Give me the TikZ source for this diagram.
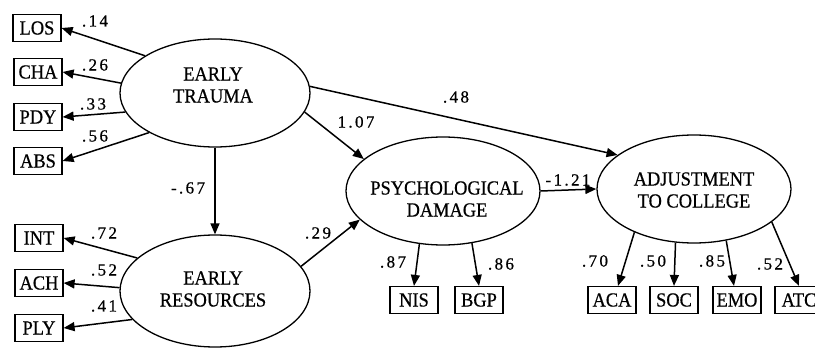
\documentclass[tikz,border=0pt]{standalone}
\usepackage{fontspec}
\setmainfont[FakeBold=0.6,FakeStretch=0.92]{Liberation Serif}
\newfontfamily\numfont[LetterSpace=14,FakeBold=0.6]{Liberation Serif}
\usetikzlibrary{arrows.meta,shapes.geometric}
\tikzset{
  lat/.style={draw, line width=1.3pt, ellipse, minimum width=190pt, minimum height=108pt, inner sep=0pt},
  lattext/.style={align=center, inner sep=0pt, font=\fontsize{20}{22}\selectfont},
  obs/.style={draw, line width=1.2pt, rectangle, minimum width=48pt, minimum height=27pt, inner sep=1pt, font=\fontsize{20}{22}\selectfont},
  conn/.style={line width=1.5pt, -{Triangle[length=11pt,width=9pt]}},
  coef/.style={font=\numfont\fontsize{17}{19}\selectfont, inner sep=0pt}
}
\begin{document}
\begin{tikzpicture}[x=1pt,y=-1pt]
\useasboundingbox (0,0) rectangle (815,350);
\clip (0,0) rectangle (815,350);
% latent variables
\node[lat] (ET) at (215,93) {};
\node[lat, minimum height=112pt] (ER) at (215,291) {};
\node[lat, minimum width=194pt] (PD) at (443,191) {};
\node[lat, minimum width=194pt] (AC) at (694,189) {};
\node[lattext] (ETt) at (213,85) {EARLY\\TRAUMA};
\node[lattext] (ERt) at (213,289) {EARLY\\RESOURCES};
\node[lattext] (PDt) at (447,199) {PSYCHOLOGICAL\\DAMAGE};
\node[lattext] (ACt) at (694,190) {ADJUSTMENT\\TO COLLEGE};
% indicators
\node[obs] (LOS) at (37,28) {LOS};
\node[obs] (CHA) at (38,72) {CHA};
\node[obs] (PDY) at (38,117) {PDY};
\node[obs] (ABS) at (38,161) {ABS};
\node[obs] (INT) at (39,238) {INT};
\node[obs] (ACH) at (39,283) {ACH};
\node[obs] (PLY) at (39,328) {PLY};
\node[obs] (NIS) at (414,300) {NIS};
\node[obs] (BGP) at (479,300) {BGP};
\node[obs] (ACA) at (612,300) {ACA};
\node[obs] (SOC) at (674,300) {SOC};
\node[obs] (EMO) at (737,300) {EMO};
\node[obs] (ATC) at (799,300) {ATC};
% loadings
\draw[conn] (ET.152) -- (LOS.east);
\draw[conn] (ET.174) -- (CHA.east);
\draw[conn] (ET.192) -- (PDY.east);
\draw[conn] (ET.211) -- (ABS.east);
\draw[conn] (ER.157) -- (INT.east);
\draw[conn] (ER.178) -- (ACH.east);
\draw[conn] (ER.199) -- (PLY.east);
\draw[conn] (PD.246) -- (NIS.north);
\draw[conn] (PD.299) -- (BGP.north);
\draw[conn] (AC.216) -- ([xshift=6pt]ACA.north);
\draw[conn] (AC.251) -- (SOC.north);
\draw[conn] (AC.302) -- ([xshift=-3pt]EMO.north);
\draw[conn] (AC.337) -- (ATC.north);
% structural paths
\draw[conn] (ET.south) -- (ER.north);
\draw[conn] (ET.-12) -- (PD.158);
\draw[conn] (ER.16) -- (PD.199);
\draw[conn] (ET.4) -- (AC.156);
\draw[conn] (PD.east) -- (AC.west);
% coefficients
\node[coef] (c1) at (95,21) {.14};
\node[coef] (c2) at (95,65) {.26};
\node[coef] (c3) at (93,104) {.33};
\node[coef] (c4) at (95,136) {.56};
\node[coef] (c5) at (188,188) {-.67};
\node[coef] (c6) at (104,233) {.72};
\node[coef] (c7) at (104,270) {.52};
\node[coef] (c8) at (104,306) {.41};
\node[coef] (c9) at (356,122) {1.07};
\node[coef] (c10) at (456,97) {.48};
\node[coef] (c11) at (318,233) {.29};
\node[coef] (c12) at (568,180) {-1.21};
\node[coef] (c13) at (393,262) {.87};
\node[coef] (c14) at (501,264) {.86};
\node[coef] (c15) at (595,261) {.70};
\node[coef] (c16) at (653,261) {.50};
\node[coef] (c17) at (712,261) {.85};
\node[coef] (c18) at (770,264) {.52};
\end{tikzpicture}
\end{document}
